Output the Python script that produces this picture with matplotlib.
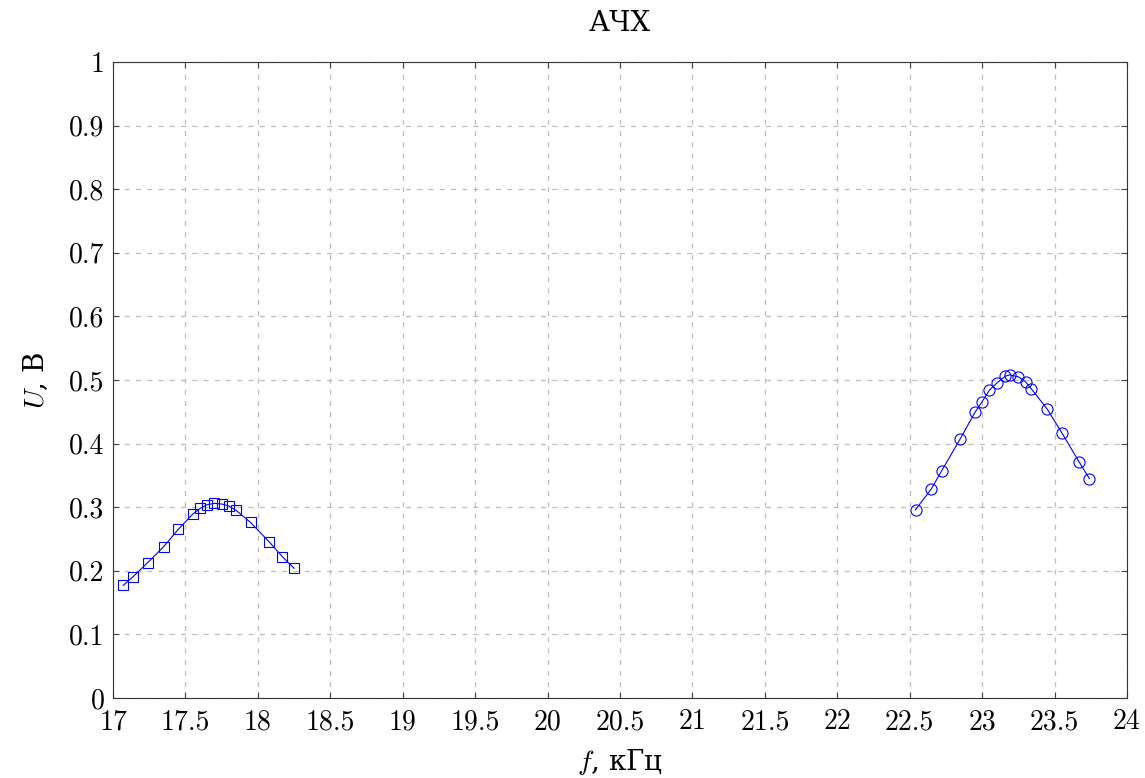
import matplotlib
matplotlib.use("Agg")
import matplotlib.pyplot as plt
import numpy as np

plt.rcParams['font.family'] = ['cmr10', 'DejaVu Serif']
plt.rcParams['mathtext.fontset'] = 'cm'
plt.rcParams['axes.formatter.use_mathtext'] = True

# первый резонанс (квадраты)
f1 = [17.07, 17.14, 17.24, 17.35, 17.45, 17.55, 17.6, 17.65, 17.7, 17.75,
      17.8, 17.85, 17.95, 18.08, 18.17, 18.25]
u1 = [0.177, 0.191, 0.213, 0.238, 0.265, 0.289, 0.298, 0.304, 0.306, 0.305,
      0.302, 0.295, 0.276, 0.245, 0.222, 0.204]

# второй резонанс (круги)
f2 = [22.54, 22.65, 22.72, 22.85, 22.95, 23.0, 23.05, 23.1, 23.16, 23.19,
      23.25, 23.3, 23.34, 23.45, 23.55, 23.67, 23.74]
u2 = [0.296, 0.329, 0.357, 0.408, 0.449, 0.466, 0.484, 0.495, 0.506, 0.508,
      0.505, 0.497, 0.486, 0.454, 0.417, 0.371, 0.345]

xticks = np.arange(17, 24.01, 0.5)
yticks = np.arange(0, 1.01, 0.1)

fig = plt.figure(figsize=(11.45, 7.78), dpi=100)
ax = fig.add_axes([113/1145, 1-698/778, (1127-113)/1145, (698-62)/778])

ax.plot(f1, u1, color='blue', lw=0.8, marker='s', ms=7.5, mfc='none', mec='blue', mew=0.8)
ax.plot(f2, u2, color='blue', lw=0.8, marker='o', ms=8, mfc='none', mec='blue', mew=0.8)

ax.set_xlim(17, 24)
ax.set_ylim(0, 1)
ax.set_xticks(xticks)
ax.set_yticks(yticks)
ax.set_xticklabels([f"{v:g}" for v in xticks])
ax.set_yticklabels([f"{v:g}" for v in np.round(yticks, 1)])
ax.grid(True, ls=(0, (4, 5)), color='#bdbdbd', lw=0.9)
ax.tick_params(direction='in', top=True, right=True, length=4, width=0.8,
               labelsize=20, color='#444444', pad=6)
ax.tick_params(axis='x', pad=8)
for s in ax.spines.values():
    s.set_linewidth(0.8)
    s.set_color('#333333')

# кириллица в подписях - через DejaVu Serif, т.к. в cmr10 ее нет
ax.set_xlabel("$f$, кГц", fontsize=20, labelpad=8, family='DejaVu Serif')
ax.set_ylabel("$U$, В", fontsize=20, labelpad=14, family='DejaVu Serif')
ax.set_title("АЧХ", fontsize=20, pad=22, family='DejaVu Serif')

plt.savefig("out.png", dpi=100)
